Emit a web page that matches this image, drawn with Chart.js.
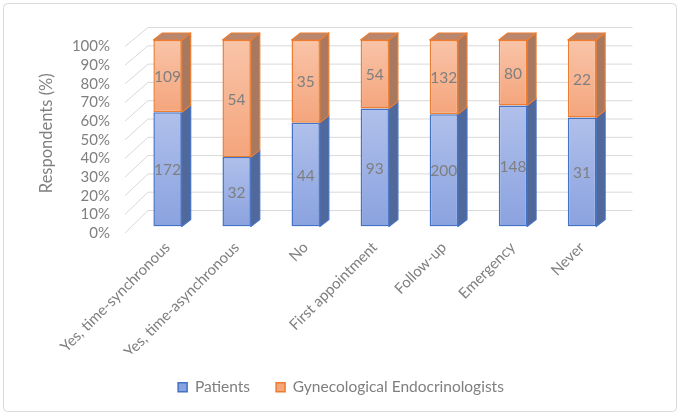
<!DOCTYPE html>
<html>
<head>
<meta charset="utf-8">
<script src="https://cdn.jsdelivr.net/npm/chart.js@4.4.0/dist/chart.umd.min.js"></script>
<style>
  html, body { margin: 0; padding: 0; background: #fff; }
  #wrap { width: 682px; height: 415px; }
</style>
</head>
<body>
<div id="wrap"><canvas id="myChart" width="682" height="415"></canvas></div>
<script>
// Datos del gráfico (conteos de respuestas)
const categorias = ['Yes, time-synchronous', 'Yes, time-asynchronous', 'No', 'First appointment', 'Follow-up', 'Emergency', 'Never'];
const pacientes = [172, 32, 44, 93, 200, 148, 31];
const ginecologos = [109, 54, 35, 54, 132, 80, 22];
const ticksY = [0, 10, 20, 30, 40, 50, 60, 70, 80, 90, 100];

// Porcentajes para el apilado al 100%
const pctPacientes = pacientes.map((v, i) => v / (v + ginecologos[i]) * 100);
const pctGinecologos = ginecologos.map((v, i) => v / (pacientes[i] + v) * 100);

const gris = '#7f7f7f';
const fuente = 'Lato, "Open Sans", sans-serif';
const dx = 9, dy = -7;  // profundidad de las barras 3D

// Degradado vertical para la cara frontal de cada segmento
function degradado(c, arriba, abajo, solido) {
  const chart = c.chart;
  if (!chart.chartArea || c.dataIndex === undefined) return solido;
  const y = chart.scales.y;
  const i = c.dataIndex;
  let v0, v1;
  if (c.datasetIndex === 0) { v0 = 0; v1 = pctPacientes[i]; }
  else { v0 = pctPacientes[i]; v1 = 100; }
  const g = chart.ctx.createLinearGradient(0, y.getPixelForValue(v1), 0, y.getPixelForValue(v0));
  g.addColorStop(0, arriba);
  g.addColorStop(1, abajo);
  return g;
}

// Marco exterior
const marco = {
  id: 'marco',
  beforeDraw(chart) {
    const ctx = chart.ctx;
    ctx.save();
    ctx.fillStyle = '#fff';
    ctx.fillRect(0, 0, chart.width, chart.height);
    ctx.strokeStyle = '#d9d9d9';
    ctx.lineWidth = 1;
    ctx.beginPath();
    ctx.roundRect(3.5, 3.5, 673, 408, 4);
    ctx.stroke();
    ctx.restore();
  }
};

// Líneas de la pared del fondo y de la pared lateral
const paredes = {
  id: 'paredes',
  beforeDatasetsDraw(chart) {
    const { ctx, chartArea, scales: { y } } = chart;
    ctx.save();
    ctx.strokeStyle = '#d9d9d9';
    ctx.lineWidth = 1;
    ticksY.forEach((v) => {
      const py = y.getPixelForValue(v);
      const back = py - 12.5 - (100 - v) * 0.035;
      ctx.beginPath();
      ctx.moveTo(chartArea.left - 8, py + 6.5);
      ctx.lineTo(chartArea.left + 15, back);
      ctx.lineTo(chartArea.right + 16, back);
      ctx.stroke();
    });
    ctx.restore();
  }
};

// Caras laterales y superiores de las barras, y etiquetas de valores
const caras3D = {
  id: 'caras3D',
  afterDatasetsDraw(chart) {
    const ctx = chart.ctx;
    const estilos = [
      { lado: '#51689b', borde: '#4472c4' },
      { lado: '#a8785f', borde: '#ed7d31', tapa: '#b8876e' }
    ];
    ctx.save();
    ctx.lineWidth = 1.2;
    ctx.lineJoin = 'round';
    [0, 1].forEach((d) => {
      const meta = chart.getDatasetMeta(d);
      const e = estilos[d];
      meta.data.forEach((bar) => {
        const { x, y, base, width } = bar.getProps(['x', 'y', 'base', 'width'], true);
        const l = x - width / 2, r = x + width / 2;
        ctx.fillStyle = e.lado;
        ctx.strokeStyle = e.borde;
        ctx.beginPath();
        ctx.moveTo(r, y);
        ctx.lineTo(r + dx, y + dy);
        ctx.lineTo(r + dx, base + dy);
        ctx.lineTo(r, base);
        ctx.closePath();
        ctx.fill();
        ctx.stroke();
        if (e.tapa) {
          ctx.fillStyle = e.tapa;
          ctx.beginPath();
          ctx.moveTo(l, y);
          ctx.lineTo(l + dx, y + dy);
          ctx.lineTo(r + dx, y + dy);
          ctx.lineTo(r, y);
          ctx.closePath();
          ctx.fill();
          ctx.stroke();
        }
      });
    });
    // Etiquetas con los conteos
    ctx.fillStyle = gris;
    ctx.font = '15.5px ' + fuente;
    ctx.textAlign = 'center';
    ctx.textBaseline = 'middle';
    [pacientes, ginecologos].forEach((serie, d) => {
      chart.getDatasetMeta(d).data.forEach((bar, i) => {
        const { x, y, base } = bar.getProps(['x', 'y', 'base'], true);
        ctx.fillText(String(serie[i]), x, (y + base) / 2 + 1);
      });
    });
    ctx.restore();
  }
};

new Chart(document.getElementById('myChart'), {
  type: 'bar',
  data: {
    labels: categorias,
    datasets: [
      {
        label: 'Patients',
        data: pctPacientes,
        backgroundColor: (c) => degradado(c, '#b0c0eb', '#8aa2df', '#93a9e2'),
        borderColor: '#4472c4',
        borderWidth: 1.5,
        borderSkipped: false
      },
      {
        label: 'Gynecological Endocrinologists',
        data: pctGinecologos,
        backgroundColor: (c) => degradado(c, '#f9c4a8', '#f4a57c', '#f6b08e'),
        borderColor: '#ed7d31',
        borderWidth: 1.5,
        borderSkipped: false
      }
    ]
  },
  options: {
    responsive: false,
    animation: false,
    devicePixelRatio: 1,
    layout: { padding: { top: 40, right: 0, bottom: 10, left: 0 } },
    datasets: { bar: { categoryPercentage: 1, barPercentage: 0.41 } },
    plugins: {
      tooltip: { enabled: false },
      legend: {
        position: 'bottom',
        labels: {
          boxWidth: 9,
          boxHeight: 9,
          padding: 26,
          color: gris,
          font: { family: fuente, size: 15.5 }
        }
      }
    },
    scales: {
      x: {
        stacked: true,
        grid: { display: false, drawTicks: false },
        border: { display: false },
        ticks: {
          color: gris,
          font: { family: fuente, size: 15 },
          minRotation: 45,
          maxRotation: 45,
          padding: 12,
          autoSkip: false
        },
        afterFit(scale) { scale.height = 127; }
      },
      y: {
        stacked: true,
        min: 0,
        max: 100,
        grid: { display: false, drawTicks: false },
        border: { display: false },
        ticks: {
          stepSize: 10,
          autoSkip: false,
          color: gris,
          padding: 23,
          labelOffset: 6.5,
          font: { family: fuente, size: 15 },
          callback: (v) => v + '%'
        },
        title: {
          display: true,
          text: 'Respondents (%)',
          color: gris,
          font: { family: fuente, size: 16.5 },
          padding: { top: 37, bottom: 0 }
        },
        afterFit(scale) { scale.width = 133; }
      },
      // Eje vacío a la derecha: reserva el margen sin descentrar la leyenda
      derecha: {
        type: 'linear',
        position: 'right',
        grid: { display: false, drawTicks: false },
        border: { display: false },
        ticks: { display: false },
        afterFit(scale) { scale.width = 65.5; }
      }
    }
  },
  plugins: [marco, paredes, caras3D]
});
</script>
</body>
</html>
